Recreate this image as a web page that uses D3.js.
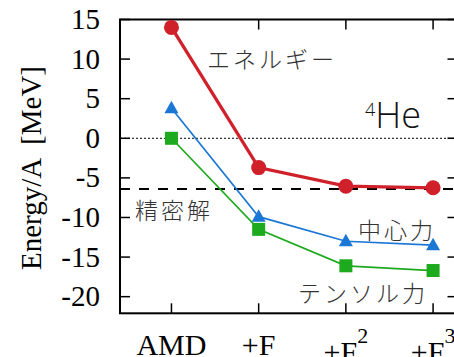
<!DOCTYPE html>
<html>
<head>
<meta charset="utf-8">
<script src="https://cdn.jsdelivr.net/npm/d3@7"></script>
<style>
  html, body { margin: 0; padding: 0; background: #fff; }
  svg { display: block; }
</style>
</head>
<body>
<svg id="chart" width="454" height="357"></svg>
<script>
// Steps of the calculation and their labels
const steps = [0, 1, 2, 3];
const stepLabels = [
  { base: "AMD", sup: "" },
  { base: "+F", sup: "" },
  { base: "+F", sup: "2" },
  { base: "+F", sup: "3" }
];

// Energy per nucleon [MeV] for each series
const energyTotal = [14.0, -3.7, -6.05, -6.25];   // エネルギー
const energyCentral = [3.8, -9.9, -13.0, -13.5];  // 中心力
const energyTensor = [0.0, -11.5, -16.1, -16.7];  // テンソル力

// Exact solution
const exactValue = -6.4;

// Axis ticks
const yTicks = [15, 10, 5, 0, -5, -10, -15, -20];

const svg = d3.select("#chart");

const x = d3.scaleLinear().domain([-0.59, 3.28]).range([120, 457.5]);
const y = d3.scaleLinear().domain([-22.1, 15]).range([313.3, 19.5]);

const serif = "'Liberation Serif', 'Times New Roman', serif";
const sans = "'Open Sans', 'Liberation Sans', Arial, sans-serif";
const cjk = "'Noto Sans CJK JP', 'Noto Sans CJK SC', sans-serif";

// Reference lines
svg.append("line")
  .attr("x1", x.range()[0]).attr("x2", x.range()[1])
  .attr("y1", y(0)).attr("y2", y(0))
  .attr("stroke", "#000").attr("stroke-width", 1)
  .attr("stroke-dasharray", "2,2");

svg.append("line")
  .attr("x1", x.range()[0]).attr("x2", x.range()[1])
  .attr("y1", y(exactValue)).attr("y2", y(exactValue))
  .attr("stroke", "#000").attr("stroke-width", 2)
  .attr("stroke-dasharray", "10,9");

// Frame ticks
const tickLen = 10;
const frame = svg.append("g").attr("stroke", "#000").attr("stroke-width", 1.5);
yTicks.forEach(t => {
  frame.append("line").attr("x1", x.range()[0]).attr("x2", x.range()[0] + tickLen)
    .attr("y1", y(t)).attr("y2", y(t));
  frame.append("line").attr("x1", x.range()[1]).attr("x2", x.range()[1] - tickLen)
    .attr("y1", y(t)).attr("y2", y(t));
});
steps.forEach(s => {
  frame.append("line").attr("x1", x(s)).attr("x2", x(s))
    .attr("y1", y.range()[0]).attr("y2", y.range()[0] - tickLen);
  frame.append("line").attr("x1", x(s)).attr("x2", x(s))
    .attr("y1", y.range()[1]).attr("y2", y.range()[1] + tickLen);
});

// Frame border
svg.append("rect")
  .attr("x", x.range()[0]).attr("y", y.range()[1])
  .attr("width", x.range()[1] - x.range()[0])
  .attr("height", y.range()[0] - y.range()[1])
  .attr("fill", "none").attr("stroke", "#000").attr("stroke-width", 2);

// Y tick labels
svg.append("g").selectAll("text").data(yTicks).join("text")
  .attr("x", 100).attr("y", d => y(d) + 9.5)
  .attr("text-anchor", "end")
  .attr("font-family", serif).attr("font-size", 29)
  .attr("fill", "#000")
  .text(d => d);

// X tick labels
stepLabels.forEach((lab, i) => {
  const hasSup = lab.sup !== "";
  const t = svg.append("text")
    .attr("x", x(steps[i]))
    .attr("y", hasSup ? 362 : 355)
    .attr("text-anchor", "middle")
    .attr("font-family", serif).attr("font-size", 30)
    .attr("fill", "#000");
  t.append("tspan").text(lab.base);
  if (hasSup) {
    t.append("tspan").attr("font-size", 22).attr("dy", -19).text(lab.sup);
  }
});

// Y axis title
svg.append("text")
  .attr("transform", "translate(41,168) rotate(-90)")
  .attr("text-anchor", "middle")
  .attr("font-family", serif).attr("font-size", 29)
  .attr("fill", "#000")
  .style("white-space", "pre")
  .text("Energy/A  [MeV]");

// Series
const line = d3.line().x((d, i) => x(steps[i])).y(d => y(d));

const series = [
  { values: energyTensor, color: "#1daa1f", width: 1.7, marker: "square" },
  { values: energyCentral, color: "#1a77d6", width: 1.7, marker: "triangle" },
  { values: energyTotal, color: "#d0212b", width: 3.3, marker: "circle" }
];

series.forEach(s => {
  svg.append("path")
    .datum(s.values)
    .attr("d", line)
    .attr("fill", "none")
    .attr("stroke", s.color)
    .attr("stroke-width", s.width);

  const g = svg.append("g").attr("fill", s.color);
  s.values.forEach((v, i) => {
    const cx = x(steps[i]), cy = y(v);
    if (s.marker === "circle") {
      g.append("circle").attr("cx", cx).attr("cy", cy).attr("r", 7.5);
    } else if (s.marker === "square") {
      g.append("rect").attr("x", cx - 6.5).attr("y", cy - 6.5)
        .attr("width", 13).attr("height", 13);
    } else {
      g.append("path")
        .attr("d", `M${cx},${cy - 7.5}L${cx + 7},${cy + 5}L${cx - 7},${cy + 5}Z`);
    }
  });
});

// Series labels
const jpLabels = [
  { text: "エネルギー", x: 207, y: 58 },
  { text: "精密解", x: 135, y: 209 },
  { text: "中心力", x: 358, y: 229 },
  { text: "テンソル力", x: 298, y: 292 }
];
svg.append("g").selectAll("text").data(jpLabels).join("text")
  .attr("x", d => d.x).attr("y", d => d.y)
  .attr("dominant-baseline", "central")
  .attr("font-family", cjk).attr("font-size", 23)
  .attr("font-weight", 300)
  .attr("letter-spacing", 3)
  .attr("fill", "#333")
  .text(d => d.text);

// Nucleus label
const he = svg.append("text")
  .attr("x", 365).attr("y", 128)
  .attr("font-family", sans).attr("font-size", 36)
  .attr("font-weight", 300)
  .attr("fill", "#111");
he.append("tspan").attr("font-size", 18).attr("dy", -12).text("4");
he.append("tspan").attr("dy", 12).text("He");
</script>
</body>
</html>
